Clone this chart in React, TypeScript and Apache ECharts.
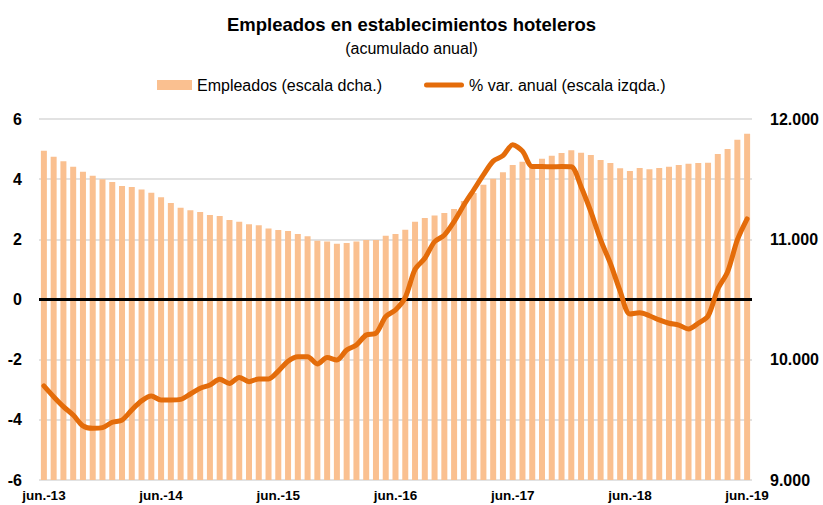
import React, { useEffect, useRef } from "react";
import * as echarts from "echarts";

const MONTHS = ["jun.", "jul.", "ago.", "sept.", "oct.", "nov.", "dic.", "ene.", "feb.", "mar.", "abr.", "may."];
const START_YEAR = 13;
const N_POINTS = 73;

const categories: string[] = [];
for (let i = 0; i < N_POINTS; i++) {
  const m = i % 12;
  const yr = START_YEAR + Math.floor((i + 5) / 12);
  categories.push(`${MONTHS[m]}-${yr}`);
}

const empleados = [
  11737, 11687, 11648, 11604, 11562, 11529, 11499, 11476, 11443, 11435,
  11415, 11388, 11349, 11302, 11263, 11241, 11227, 11202, 11194, 11161,
  11147, 11125, 11116, 11089, 11078, 11069, 11044, 11025, 10989, 10981,
  10964, 10969, 10981, 10994, 10994, 11030, 11044, 11080, 11147, 11177,
  11199, 11219, 11252, 11318, 11385, 11454, 11504, 11557, 11618, 11645,
  11625, 11670, 11695, 11717, 11740, 11720, 11701, 11659, 11634, 11590,
  11568, 11593, 11582, 11593, 11604, 11618, 11629, 11634, 11637, 11709,
  11751, 11828, 11878,
];

const varAnual = [
  -2.87, -3.23, -3.56, -3.84, -4.2, -4.28, -4.26, -4.08, -4.01, -3.67,
  -3.37, -3.21, -3.34, -3.34, -3.32, -3.14, -2.95, -2.84, -2.65, -2.79,
  -2.59, -2.73, -2.64, -2.64, -2.38, -2.05, -1.9, -1.9, -2.14, -1.93,
  -2.01, -1.68, -1.51, -1.18, -1.12, -0.57, -0.35, 0.07, 1.0, 1.37,
  1.92, 2.14, 2.59, 3.14, 3.64, 4.14, 4.6, 4.78, 5.14, 4.93,
  4.42, 4.42, 4.41, 4.42, 4.41, 3.75, 2.92, 1.98, 1.2, 0.28,
  -0.48, -0.44, -0.54, -0.68, -0.79, -0.85, -0.98, -0.79, -0.55, 0.35,
  0.92, 1.98, 2.68,
];

const LEFT_MIN = -6, LEFT_MAX = 6, LEFT_STEP = 2;
const RIGHT_MIN = 9000, RIGHT_MAX = 12000, RIGHT_STEP = 1000;
const ZERO_ON_RIGHT = 10500;

const BAR_NAME = "Empleados (escala dcha.)";
const LINE_NAME = "% var. anual (escala izqda.)";

const FONT = "'Liberation Sans', Arial, Helvetica, sans-serif";
const LINE_ICON = "path://M2.5,0 L37.5,0 A2.5,2.5 0 0 1 37.5,5 L2.5,5 A2.5,2.5 0 0 1 2.5,0 Z";

function fmtThousands(v: number): string {
  const s = Math.round(v).toString();
  return s.replace(/\B(?=(\d{3})+(?!\d))/g, ".");
}

export default function App() {
  const ref = useRef<HTMLDivElement>(null);
  useEffect(() => {
    if (!ref.current) return;
    const chart = echarts.init(ref.current, null, { renderer: "svg" });
    chart.setOption({
      animation: false,
      backgroundColor: "#ffffff",
      title: {
        text: "Empleados en establecimientos hoteleros",
        subtext: "(acumulado anual)",
        left: "center",
        top: 10,
        itemGap: 6,
        textStyle: { fontFamily: FONT, fontSize: 18.5, fontWeight: "bold", color: "#000" },
        subtextStyle: { fontFamily: FONT, fontSize: 16, color: "#000" },
      },
      legend: [
        {
          left: 152,
          top: 72,
          itemWidth: 35,
          itemHeight: 10,
          textStyle: { fontFamily: FONT, fontSize: 16, color: "#000" },
          data: [{ name: BAR_NAME, icon: "rect" }],
        },
        {
          left: 419,
          top: 72,
          itemWidth: 40,
          itemHeight: 10,
          textStyle: { fontFamily: FONT, fontSize: 16, color: "#000" },
          data: [{ name: LINE_NAME, icon: LINE_ICON }],
        },
      ],
      grid: { left: 39, right: 71, top: 119, bottom: 25, containLabel: false },
      xAxis: {
        type: "category",
        data: categories,
        boundaryGap: true,
        axisLine: { show: false },
        axisTick: { show: false },
        axisLabel: {
          interval: 11,
          margin: 8,
          fontFamily: FONT,
          fontSize: 13.5,
          fontWeight: "bold",
          color: "#000",
        },
      },
      yAxis: [
        {
          type: "value",
          min: LEFT_MIN,
          max: LEFT_MAX,
          interval: LEFT_STEP,
          axisLine: { show: false },
          axisTick: { show: false },
          splitLine: { show: true, lineStyle: { color: "#d9d9d9", width: 1.5 } },
          axisLabel: { margin: 17, fontFamily: FONT, fontSize: 16, fontWeight: "bold", color: "#000" },
        },
        {
          type: "value",
          min: RIGHT_MIN,
          max: RIGHT_MAX,
          interval: RIGHT_STEP,
          axisLine: { show: false },
          axisTick: { show: false },
          splitLine: { show: false },
          axisLabel: {
            margin: 18,
            fontFamily: FONT,
            fontSize: 16,
            fontWeight: "bold",
            color: "#000",
            formatter: (v: number) => fmtThousands(v),
          },
        },
      ],
      series: [
        {
          name: BAR_NAME,
          type: "bar",
          yAxisIndex: 1,
          data: empleados,
          barWidth: 6,
          z: 2,
          itemStyle: { color: "#FAC090" },
          markLine: {
            silent: true,
            symbol: ["none", "none"],
            label: { show: false },
            lineStyle: { color: "#000", width: 3, type: "solid" },
            data: [{ yAxis: ZERO_ON_RIGHT }],
          },
        },
        {
          name: LINE_NAME,
          type: "line",
          yAxisIndex: 0,
          data: varAnual,
          smooth: 0.3,
          symbol: "none",
          z: 5,
          lineStyle: { color: "#E46C0A", width: 5, cap: "round", join: "round" },
          itemStyle: { color: "#E46C0A" },
        },
      ],
    });
    return () => chart.dispose();
  }, []);
  return (
    <div
      ref={ref}
      style={{ position: "fixed", left: 0, top: 0, width: 823, height: 505 }}
    />
  );
}
